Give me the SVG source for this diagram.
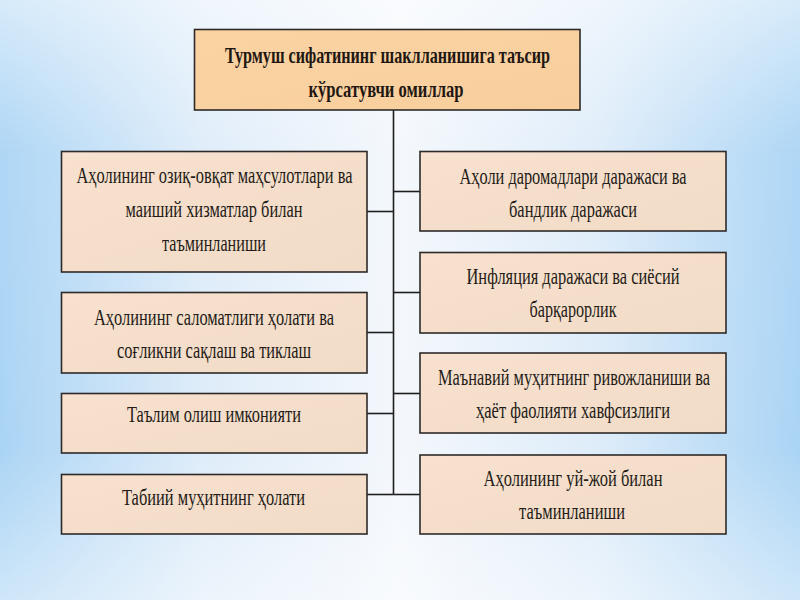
<svg xmlns="http://www.w3.org/2000/svg" width="800" height="600" viewBox="0 0 800 600">
  <defs>
    <linearGradient id="bgH" x1="0" y1="0" x2="1" y2="0">
      <stop offset="0" stop-color="#A6D2F4"/>
      <stop offset="0.25" stop-color="#DCEBF9"/>
      <stop offset="0.5" stop-color="#F3F7FC"/>
      <stop offset="0.75" stop-color="#DCEBF9"/>
      <stop offset="1" stop-color="#A6D2F4"/>
    </linearGradient>
    <linearGradient id="bgV" x1="0" y1="0" x2="0" y2="1">
      <stop offset="0" stop-color="#FFFFFF" stop-opacity="0.55"/>
      <stop offset="0.25" stop-color="#FFFFFF" stop-opacity="0.1"/>
      <stop offset="0.75" stop-color="#FFFFFF" stop-opacity="0.05"/>
      <stop offset="1" stop-color="#FFFFFF" stop-opacity="0.45"/>
    </linearGradient>
    <linearGradient id="boxFill" x1="0" y1="0" x2="1" y2="1">
      <stop offset="0" stop-color="#F8E1CE"/>
      <stop offset="1" stop-color="#F1DCC8"/>
    </linearGradient>
    <linearGradient id="topFill" x1="0" y1="0" x2="1" y2="1">
      <stop offset="0" stop-color="#FBD3A3"/>
      <stop offset="1" stop-color="#F8CE9C"/>
    </linearGradient>
  </defs>
  <style>
    .box { fill: url(#boxFill); stroke: #2E2A28; stroke-width: 1.6; }
    .top { fill: url(#topFill); stroke: #2E2A28; stroke-width: 1.6; }
    .t { font-family: "Liberation Serif", "DejaVu Serif", serif; font-size: 23px; fill: #241B16; text-anchor: middle; }
    .tb { font-family: "Liberation Serif", "DejaVu Serif", serif; font-size: 23px; font-weight: bold; fill: #1F1712; text-anchor: middle; }
    .conn { stroke: #1E1E1E; stroke-width: 1.6; fill: none; }
  </style>

  <rect width="800" height="600" fill="url(#bgH)"/>
  <rect width="800" height="600" fill="url(#bgV)"/>

  <g id="connectors">
    <line class="conn" x1="393.5" y1="110" x2="393.5" y2="494.5"/>
    <line class="conn" x1="367" y1="211.5" x2="393.5" y2="211.5"/>
    <line class="conn" x1="367" y1="332.5" x2="393.5" y2="332.5"/>
    <line class="conn" x1="367" y1="413.5" x2="393.5" y2="413.5"/>
    <line class="conn" x1="367" y1="494.5" x2="393.5" y2="494.5"/>
    <line class="conn" x1="393.5" y1="191.5" x2="420" y2="191.5"/>
    <line class="conn" x1="393.5" y1="292.5" x2="420" y2="292.5"/>
    <line class="conn" x1="393.5" y1="393.5" x2="420" y2="393.5"/>
    <line class="conn" x1="393.5" y1="494.5" x2="420" y2="494.5"/>
  </g>

  <g id="node-top">
    <rect class="top" x="194.5" y="29.5" width="385.5" height="80.5"/>
    <text class="tb" x="387.5" y="63" textLength="325" lengthAdjust="spacingAndGlyphs">Турмуш сифатининг шаклланишига таъсир</text>
    <text class="tb" x="386" y="97" textLength="155" lengthAdjust="spacingAndGlyphs">кўрсатувчи омиллар</text>
  </g>

  <g id="node-l1">
    <rect class="box" x="61.5" y="151.5" width="305.5" height="120.5"/>
    <text class="t" x="214.5" y="183" textLength="276" lengthAdjust="spacingAndGlyphs">Аҳолининг озиқ-овқат маҳсулотлари ва</text>
    <text class="t" x="214" y="217" textLength="177" lengthAdjust="spacingAndGlyphs">маиший хизматлар билан</text>
    <text class="t" x="214" y="251" textLength="104" lengthAdjust="spacingAndGlyphs">таъминланиши</text>
  </g>

  <g id="node-l2">
    <rect class="box" x="61.5" y="292.5" width="305.5" height="80.5"/>
    <text class="t" x="214" y="325" textLength="240" lengthAdjust="spacingAndGlyphs">Аҳолининг саломатлиги ҳолати ва</text>
    <text class="t" x="214" y="358" textLength="194" lengthAdjust="spacingAndGlyphs">соғликни сақлаш ва тиклаш</text>
  </g>

  <g id="node-l3">
    <rect class="box" x="61.5" y="393.5" width="305.5" height="59.5"/>
    <text class="t" x="214" y="422" textLength="174" lengthAdjust="spacingAndGlyphs">Таълим олиш имконияти</text>
  </g>

  <g id="node-l4">
    <rect class="box" x="61.5" y="474.5" width="305.5" height="59.5"/>
    <text class="t" x="213.5" y="505" textLength="183" lengthAdjust="spacingAndGlyphs">Табиий муҳитнинг ҳолати</text>
  </g>

  <g id="node-r1">
    <rect class="box" x="420" y="151.5" width="306" height="79.5"/>
    <text class="t" x="573" y="183.5" textLength="227" lengthAdjust="spacingAndGlyphs">Аҳоли даромадлари даражаси ва</text>
    <text class="t" x="573" y="216.5" textLength="128" lengthAdjust="spacingAndGlyphs">бандлик даражаси</text>
  </g>

  <g id="node-r2">
    <rect class="box" x="420" y="252.5" width="306" height="80.5"/>
    <text class="t" x="573" y="284" textLength="213" lengthAdjust="spacingAndGlyphs">Инфляция даражаси ва сиёсий</text>
    <text class="t" x="573" y="317" textLength="87" lengthAdjust="spacingAndGlyphs">барқарорлик</text>
  </g>

  <g id="node-r3">
    <rect class="box" x="420" y="353" width="306" height="80"/>
    <text class="t" x="574" y="385" textLength="272" lengthAdjust="spacingAndGlyphs">Маънавий муҳитнинг ривожланиши ва</text>
    <text class="t" x="573" y="418" textLength="194" lengthAdjust="spacingAndGlyphs">ҳаёт фаолияти хавфсизлиги</text>
  </g>

  <g id="node-r4">
    <rect class="box" x="420" y="455" width="306" height="79"/>
    <text class="t" x="573" y="486" textLength="179" lengthAdjust="spacingAndGlyphs">Аҳолининг уй-жой билан</text>
    <text class="t" x="572" y="519" textLength="106" lengthAdjust="spacingAndGlyphs">таъминланиши</text>
  </g>
</svg>
